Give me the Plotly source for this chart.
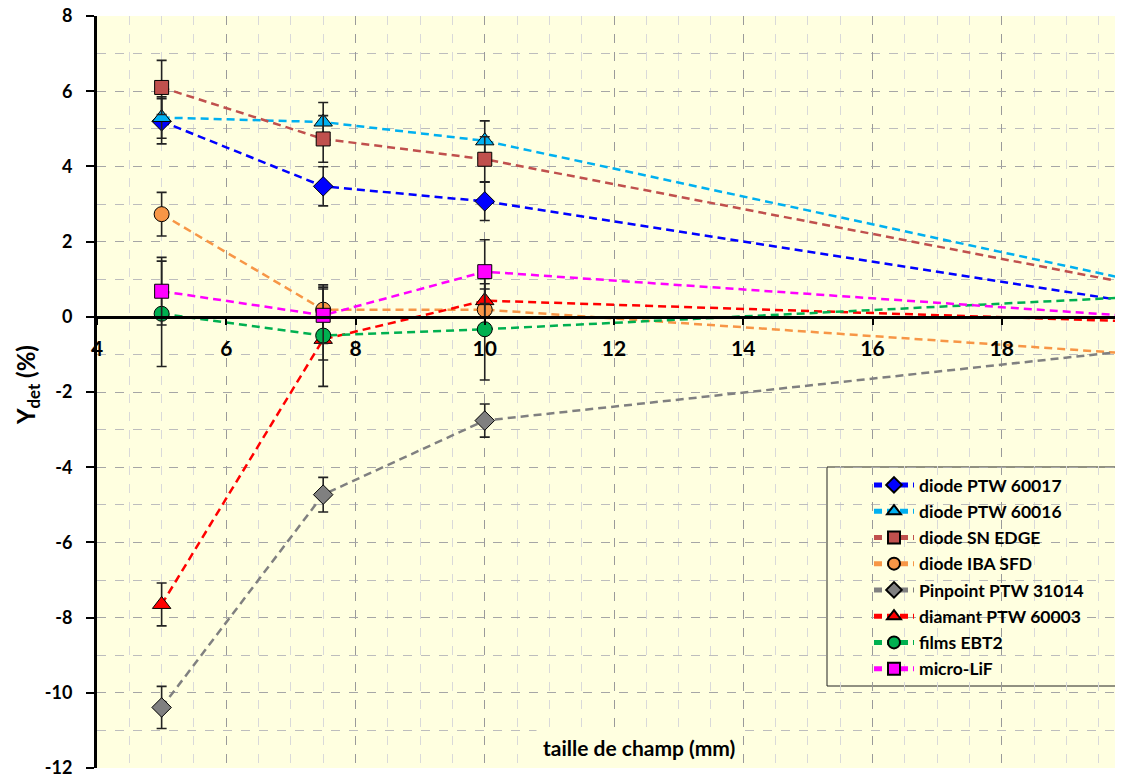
import plotly.graph_objects as go

# ---- data ----
x_vals = [5, 7.5, 10, 20]

names = ["diode PTW 60017", "diode PTW 60016", "diode SN EDGE", "diode IBA SFD",
         "Pinpoint PTW 31014", "diamant PTW 60003", "films EBT2", "micro-LiF"]

y_60017 = [5.2, 3.47, 3.07, 0.40]
e_60017 = [0.6, 0.52, 0.51, 0]
y_60016 = [5.3, 5.18, 4.68, 0.98]
e_60016 = [0.55, 0.52, 0.53, 0]
y_edge = [6.1, 4.73, 4.19, 0.88]
e_edge = [0.72, 0.62, 0.6, 0]
y_sfd = [2.73, 0.19, 0.19, -0.98]
e_sfd = [0.58, 0.55, 0.55, 0]
y_pin = [-10.39, -4.73, -2.76, -0.9]
e_pin = [0.56, 0.46, 0.44, 0]
y_diam = [-7.65, -0.6, 0.43, -0.12]
e_diam = [0.57, 0.55, 0.45, 0]
y_ebt2 = [0.08, -0.5, -0.33, 0.52]
e_ebt2 = [1.4, 1.35, 1.35, 0]
y_lif = [0.68, 0.04, 1.2, 0.02]
e_lif = [0.9, 0.75, 0.85, 0]

y_tick_vals = [-12, -10, -8, -6, -4, -2, 0, 2, 4, 6, 8]
y_tick_text = ["-12", "-10", "-8", "-6", "-4", "-2", "0", "2", "4", "6", "8"]
x_tick_vals = [4, 6, 8, 10, 12, 14, 16, 18, 20]
x_tick_text = ["4", "6", "8", "10", "12", "14", "16", "18", "20"]

series_y = [y_60017, y_60016, y_edge, y_sfd, y_pin, y_diam, y_ebt2, y_lif]
series_e = [e_60017, e_60016, e_edge, e_sfd, e_pin, e_diam, e_ebt2, e_lif]

colors = ["#0000FF", "#00B0F0", "#C0504D", "#F79646", "#808080", "#FF0000", "#00B050", "#FF00FF"]
symbols = ["diamond", "triangle-up", "square", "circle", "diamond", "triangle-up", "circle", "square"]
sizes = [15, 16, 14, 15, 15, 16, 15, 14]

FONT = "Lato"
BG = "#FFFFE0"

# page offset of the plot div (default body margin)
OFF = 8
PL, PT, PB = 97, 16, 768          # target plot-area edges on the page
W, H = 1123, 778
ML, MT = PL - OFF, PT - OFF
MB = OFF + H - PB
PW = W - ML                       # plot width (right margin 0)
PH = H - MT - MB

def px_x(p):
    return (p - PL) / PW

def px_y(p):
    return (PB - p) / PH

fig = go.Figure()
for i in range(len(names)):
    fig.add_trace(go.Scatter(
        x=x_vals, y=series_y[i], name=names[i], mode="lines+markers",
        legendgroup=names[i],
        line=dict(color=colors[i], width=2.5, dash="8px,5px"),
        marker=dict(symbol=symbols[i], size=sizes[i], color=colors[i],
                    line=dict(color="#000000", width=1)),
        error_y=dict(type="data", array=series_e[i], visible=True,
                     color="#222222", thickness=1.6, width=5),
    ))

fig.update_layout(
    width=W, height=H,
    margin=dict(l=ML, r=0, t=MT, b=MB, pad=0, autoexpand=False),
    paper_bgcolor="white", plot_bgcolor=BG,
    font=dict(family=FONT, color="black"),
    showlegend=True,
    legend=dict(x=px_x(827), y=px_y(467), xanchor="left", yanchor="top",
                bgcolor="rgba(0,0,0,0)", borderwidth=0,
                font=dict(family=FONT, size=17.5, weight="bold", color="black"),
                tracegroupgap=0.5, indentation=42, itemwidth=40,
                itemsizing="constant"),
    shapes=[
        dict(type="rect", xref="paper", yref="paper", layer="between",
             x0=px_x(827), x1=px_x(1121), y0=px_y(686), y1=px_y(467),
             fillcolor=BG, line=dict(color="#222222", width=1)),
    ],
    xaxis=dict(range=[4, 20], tickmode="array", tickvals=x_tick_vals, ticktext=x_tick_text,
               anchor="free", position=0.6,
               showline=True, linecolor="black", linewidth=3,
               ticks="outside", ticklen=6, tickwidth=2, tickcolor="black",
               tickfont=dict(family=FONT, size=21, weight="bold"),
               ticklabelstandoff=6, ticklabeloverflow="allow",
               showgrid=True, gridcolor="#9A9A9A", gridwidth=1, griddash="dash",
               minor=dict(dtick=0.5, tick0=4, showgrid=True, gridcolor="#D9D9D9", griddash="dash", gridwidth=1),
               zeroline=False),
    yaxis=dict(range=[-12, 8], tickmode="array", tickvals=y_tick_vals, ticktext=y_tick_text,
               showline=True, linecolor="black", linewidth=3,
               ticks="outside", ticklen=8, tickwidth=2, tickcolor="black",
               tickfont=dict(family=FONT, size=18, weight="bold"),
               ticklabelstandoff=10, ticklabeloverflow="allow",
               showgrid=True, gridcolor="#A6A6A6", gridwidth=1, griddash="dash",
               minor=dict(dtick=1, tick0=0, showgrid=True, gridcolor="#BDBDBD", griddash="dash", gridwidth=1),
               zeroline=False),
    annotations=[
        dict(text="<b>taille de champ (mm)</b>", xref="paper", yref="paper",
             x=px_x(639), y=px_y(747), xanchor="center", yanchor="middle",
             showarrow=False, font=dict(family=FONT, size=21, color="black"),
             bgcolor=BG, borderpad=6),
        dict(text="<b>Y<sub>det</sub> (%)</b>", xref="paper", yref="paper",
             x=px_x(27), y=px_y(385), xanchor="center", yanchor="middle",
             textangle=-90, showarrow=False,
             font=dict(family=FONT, size=24, color="black")),
    ],
)

fig.write_html("out.html")
